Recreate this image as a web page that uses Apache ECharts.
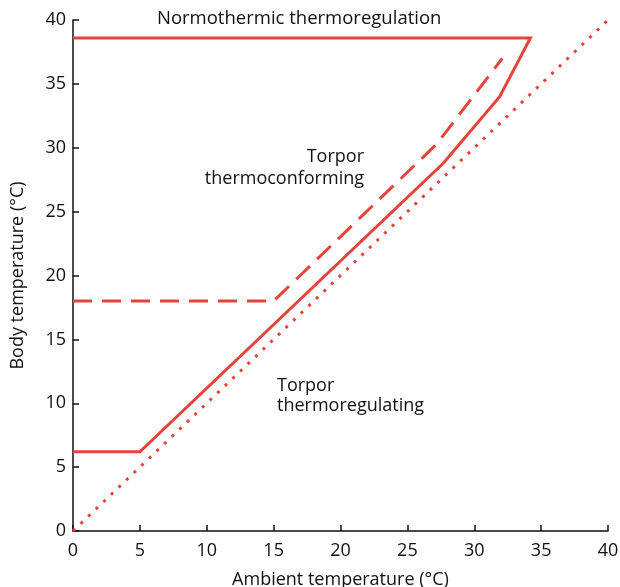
<!DOCTYPE html>
<html>
<head>
<meta charset="utf-8">
<script src="https://cdn.jsdelivr.net/npm/echarts@6/dist/echarts.min.js"></script>
<style>
  html, body { margin: 0; padding: 0; background: #fff; }
  #container { width: 620px; height: 587px; }
</style>
</head>
<body>
<div id="container"></div>
<script>
var dom = document.getElementById('container');
var myChart = echarts.init(dom, null, { renderer: 'canvas' });

// data (ambient Ta, body Tb)
var normoTorporTa = [0, 34.2, 31.9, 27.7, 5, 0];
var normoTorporTb = [38.6, 38.6, 34.0, 28.8, 6.2, 6.2];

var conformTa = [0, 15, 27.2, 32.1];
var conformTb = [18, 18, 30.3, 37.0];

var equalTa = [0, 40];
var equalTb = [0, 40];

function pairs(xs, ys) {
    var out = [];
    for (var i = 0; i < xs.length; i++) out.push([xs[i], ys[i]]);
    return out;
}

var red = '#e5443a';
var font = 'Open Sans';
var ink = '#111';

// annotation text, one entry per line
function note(text, x, y, align, size) {
    return {
        type: 'text', x: x, y: y,
        style: {
            text: text, fill: ink, align: align, verticalAlign: 'middle',
            font: (size || 18) + 'px "' + font + '"'
        }
    };
}

var option = {
    animation: false,
    grid: { left: 73, right: 12, top: 20, bottom: 56, containLabel: false, outerBoundsMode: 'none' },
    xAxis: {
        type: 'value',
        min: 0, max: 40, interval: 5,
        name: 'Ambient temperature (°C)',
        nameLocation: 'middle',
        nameGap: 40,
        nameTextStyle: { color: ink, fontSize: 18, fontFamily: font },
        axisLine: { lineStyle: { color: ink, width: 1.5 } },
        axisTick: { inside: true, length: 6, lineStyle: { color: ink, width: 1.5 } },
        axisLabel: { color: ink, fontSize: 18, fontFamily: font, margin: 11 },
        splitLine: { show: false }
    },
    yAxis: {
        type: 'value',
        min: 0, max: 40, interval: 5,
        name: 'Body temperature (°C)',
        nameLocation: 'middle',
        nameGap: 46,
        nameTextStyle: { color: ink, fontSize: 18, fontFamily: font },
        axisLine: { lineStyle: { color: ink, width: 1.5 } },
        axisTick: { inside: true, length: 6, lineStyle: { color: ink, width: 1.5 } },
        axisLabel: { color: ink, fontSize: 18, fontFamily: font, margin: 7 },
        splitLine: { show: false }
    },
    graphic: [
        note('Normothermic thermoregulation', 157, 19, 'left', 18.5),
        note('Torpor', 364, 157, 'right'),
        note('thermoconforming', 364, 179, 'right'),
        note('Torpor', 277, 386, 'left'),
        note('thermoregulating', 277, 406, 'left')
    ],
    series: [
        {
            type: 'line',
            data: pairs(equalTa, equalTb),
            symbol: 'none',
            lineStyle: { color: red, width: 3, type: [3, 7.5], cap: 'butt' },
            z: 1
        },
        {
            type: 'line',
            data: pairs(conformTa, conformTb),
            symbol: 'none',
            lineStyle: { color: red, width: 3, type: [19, 10], cap: 'butt' },
            z: 2
        },
        {
            type: 'line',
            data: pairs(normoTorporTa, normoTorporTb),
            symbol: 'none',
            lineStyle: { color: red, width: 3, join: 'miter' },
            z: 3
        }
    ]
};

myChart.setOption(option);
window.addEventListener('resize', myChart.resize);
</script>
</body>
</html>
